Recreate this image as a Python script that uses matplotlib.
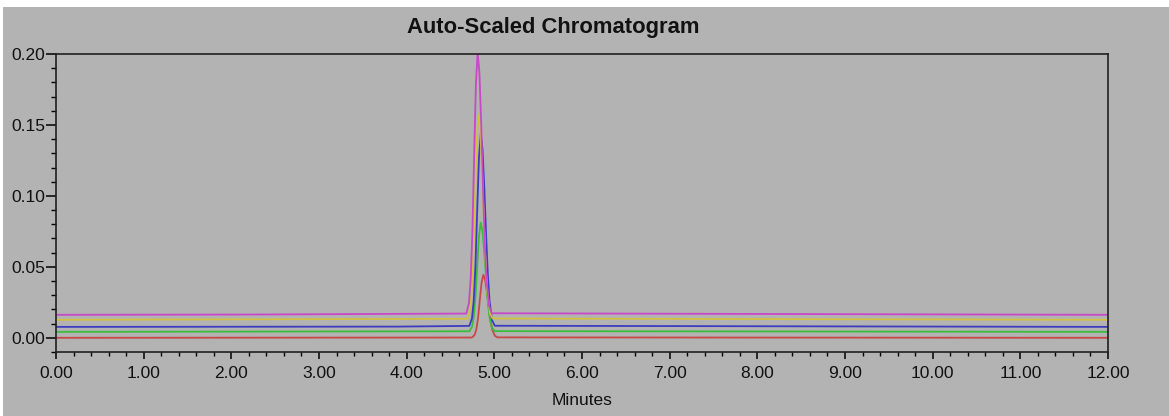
import matplotlib
matplotlib.use("Agg")
import matplotlib.pyplot as plt
from matplotlib.patches import Rectangle
from matplotlib.ticker import MultipleLocator, FormatStrFormatter

# traces (minutes, AU)
magenta_t = [0.00, 2.20, 4.68, 4.71, 4.73, 4.75, 4.77, 4.79, 4.81, 4.83, 4.85, 4.87, 4.89, 4.91, 4.94, 4.97, 12.00]
magenta_y = [0.0162, 0.0164, 0.0171, 0.0243, 0.0412, 0.0754, 0.1291, 0.1790, 0.2012,
             0.1864, 0.1513, 0.1069, 0.0680, 0.0412, 0.0225, 0.0173, 0.0162]

yellow_t = [0.00, 4.69, 4.72, 4.74, 4.76, 4.78, 4.80, 4.82, 4.84, 4.86, 4.88, 4.90, 4.92, 4.95, 4.98, 12.00]
yellow_y = [0.0127, 0.0134, 0.0191, 0.0323, 0.0591, 0.1012, 0.1403, 0.1577,
            0.1461, 0.1186, 0.0838, 0.0533, 0.0323, 0.0176, 0.0136, 0.0127]

blue_t = [0.00, 3.90, 4.715, 4.745, 4.765, 4.785, 4.805, 4.825, 4.845, 4.865, 4.885, 4.905, 4.925, 4.945, 4.975, 5.005, 12.00]
blue_y = [0.0077, 0.0079, 0.0084, 0.0137, 0.0261, 0.0512, 0.0907, 0.1274, 0.1437,
          0.1328, 0.1070, 0.0743, 0.0458, 0.0261, 0.0123, 0.0085, 0.0077]

green_t = [0.00, 4.715, 4.745, 4.765, 4.785, 4.805, 4.825, 4.845, 4.865, 4.885, 4.905, 4.925, 4.945, 4.975, 5.005, 12.00]
green_y = [0.0042, 0.0046, 0.0076, 0.0146, 0.0288, 0.0512, 0.0720, 0.0812,
           0.0750, 0.0604, 0.0419, 0.0258, 0.0146, 0.0068, 0.0047, 0.0042]

red_t = [0.00, 4.745, 4.775, 4.795, 4.815, 4.835, 4.855, 4.875, 4.895, 4.915, 4.935, 4.955, 4.975, 5.005, 5.035, 12.00]
red_y = [0.0000, 0.0002, 0.0020, 0.0060, 0.0142, 0.0271, 0.0391, 0.0444,
         0.0408, 0.0324, 0.0218, 0.0124, 0.0060, 0.0015, 0.0003, 0.0000]

traces = [
    (red_t, red_y, "#c84848"),
    (green_t, green_y, "#3cbc3c"),
    (blue_t, blue_y, "#3c3cc0"),
    (yellow_t, yellow_y, "#d2c040"),
    (magenta_t, magenta_y, "#c848c8"),
]

GRAY = "#b3b3b3"


def main():
    plt.rcParams["font.family"] = ["Liberation Sans", "DejaVu Sans"]
    fig = plt.figure(figsize=(11.69, 4.16), dpi=100, facecolor="white")
    fig.add_artist(Rectangle((3 / 1169, 0), 1, 1 - 7 / 416, transform=fig.transFigure,
                             facecolor=GRAY, edgecolor="none", zorder=-10))

    ax = fig.add_axes([56 / 1169, 1 - 352 / 416, (1108 - 56) / 1169, (352 - 54) / 416])
    ax.set_facecolor(GRAY)

    for t, y, c in traces:
        ax.plot(t, y, color=c, lw=1.3, solid_joinstyle="round")

    ax.set_xlim(0, 12)
    ax.set_ylim(-0.01, 0.20)
    ax.xaxis.set_major_locator(MultipleLocator(1))
    ax.xaxis.set_minor_locator(MultipleLocator(0.2))
    ax.yaxis.set_major_locator(MultipleLocator(0.05))
    ax.yaxis.set_minor_locator(MultipleLocator(0.01))
    ax.xaxis.set_major_formatter(FormatStrFormatter("%.2f"))
    ax.yaxis.set_major_formatter(FormatStrFormatter("%.2f"))

    ax.tick_params(axis="x", which="major", length=5, width=1.1, pad=5, labelsize=12.5,
                   labelcolor="#111111")
    ax.tick_params(axis="x", which="minor", length=3.2, width=1.0)
    ax.tick_params(axis="y", which="major", length=7, width=1.1, pad=1, labelsize=12.5,
                   labelcolor="#111111")
    ax.tick_params(axis="y", which="minor", length=3.6, width=1.0)
    for s in ax.spines.values():
        s.set_linewidth(1.2)
        s.set_color("#202020")

    ax.set_xlabel("Minutes", fontsize=12.5, labelpad=9, color="#111111")
    fig.text(0.473, 1 - 28 / 416, "Auto-Scaled Chromatogram", ha="center", va="center",
             fontsize=15.8, fontweight="bold", color="#111111")

    plt.savefig("out.png", dpi=100, facecolor=fig.get_facecolor())


if __name__ == "__main__":
    main()
